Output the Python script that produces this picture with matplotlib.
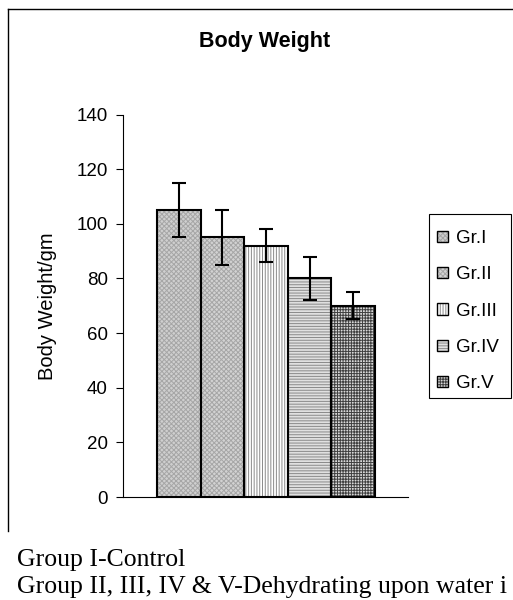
import matplotlib
matplotlib.use("Agg")
import matplotlib.pyplot as plt
from matplotlib.patches import Patch, Rectangle
from matplotlib.lines import Line2D
from matplotlib.legend_handler import HandlerTuple

groups = ["Gr.I", "Gr.II", "Gr.III", "Gr.IV", "Gr.V"]
means = [105, 95, 92, 80, 70]
errors = [10, 10, 6, 8, 5]
yticks = [0, 20, 40, 60, 80, 100, 120, 140]

faces = ["#cfcfcf", "#d2d2d2", "#ffffff", "#e0e0e0", "#d8d8d8"]
hatch_cols = ["#a6a6a6", "#a6a6a6", "#8a8a8a", "#8a8a8a", "#404040"]
hatches = ["xxxxxxx", "xxxxxxx", "||||||", "------", "++++++"]

plt.rcParams["font.family"] = ["Liberation Sans", "DejaVu Sans"]
plt.rcParams["hatch.linewidth"] = 0.7

fig = plt.figure(figsize=(5.13, 6.0), dpi=100)
ax = fig.add_axes([123/513, 1-497/600, (408-123)/513, (497-114.5)/600])

handles = []
for i, (g, m, e) in enumerate(zip(groups, means, errors)):
    ax.bar(i, m, width=1.0, color=faces[i], hatch=hatches[i],
           edgecolor=hatch_cols[i], linewidth=0, zorder=2)
    ax.bar(i, m, width=1.0, facecolor="none", edgecolor="black",
           linewidth=1.5, zorder=3)
    ax.errorbar(i, m, yerr=e, color="black", capsize=5, elinewidth=1.5,
                capthick=1.5, zorder=4)
    h1 = Patch(facecolor=faces[i], hatch=hatches[i], edgecolor=hatch_cols[i], linewidth=0)
    h2 = Patch(facecolor="none", edgecolor="black", linewidth=1.0)
    handles.append((h1, h2))

ax.set_xlim(-1.28, 5.26)
ax.set_ylim(0, 140)
ax.set_yticks(yticks)
ax.set_xticks([])
ax.tick_params(axis="y", direction="out", length=5, width=0.8, labelsize=13.5, pad=6)
for s in ["top", "right"]:
    ax.spines[s].set_visible(False)
ax.spines["left"].set_linewidth(0.8)
ax.spines["bottom"].set_linewidth(0.8)
ax.set_ylabel("Body Weight/gm", fontsize=14.5)
ax.yaxis.set_label_coords(-(123-57)/285, 0.5)

fig.text(265/513, 1-47/600, "Body Weight", ha="center", va="baseline",
         fontsize=15.5, fontweight="bold")

# legend frame drawn separately
fig.add_artist(Rectangle((429/513, 1-398/600), (511-429)/513, (398-214)/600,
                         transform=fig.transFigure, fill=False,
                         edgecolor="black", linewidth=0.8))
leg = fig.legend(handles, groups, handler_map={tuple: HandlerTuple(ndivide=1)},
                 loc="upper left", bbox_to_anchor=(429/513, 1-221.5/600),
                 frameon=False, fontsize=13.5,
                 handlelength=0.55, handleheight=0.55, handletextpad=0.45,
                 labelspacing=1.03, borderpad=0.45, borderaxespad=0)

# outer chart frame (top and left edges)
fig.add_artist(Line2D([8/513, 1.0], [1-9/600, 1-9/600], color="black", linewidth=1.0))
fig.add_artist(Line2D([8/513, 8/513], [1-9/600, 1-531/600], color="black", linewidth=1.0))

serif = ["Liberation Serif", "DejaVu Serif"]
fig.text(17/513, 1-566/600, "Group I-Control", ha="left", va="baseline",
         fontsize=18.5, family=serif)
fig.text(17/513, 1-593/600, "Group II, III, IV & V-Dehydrating upon water i",
         ha="left", va="baseline", fontsize=18.5, family=serif)

fig.savefig("out.png", dpi=100)
